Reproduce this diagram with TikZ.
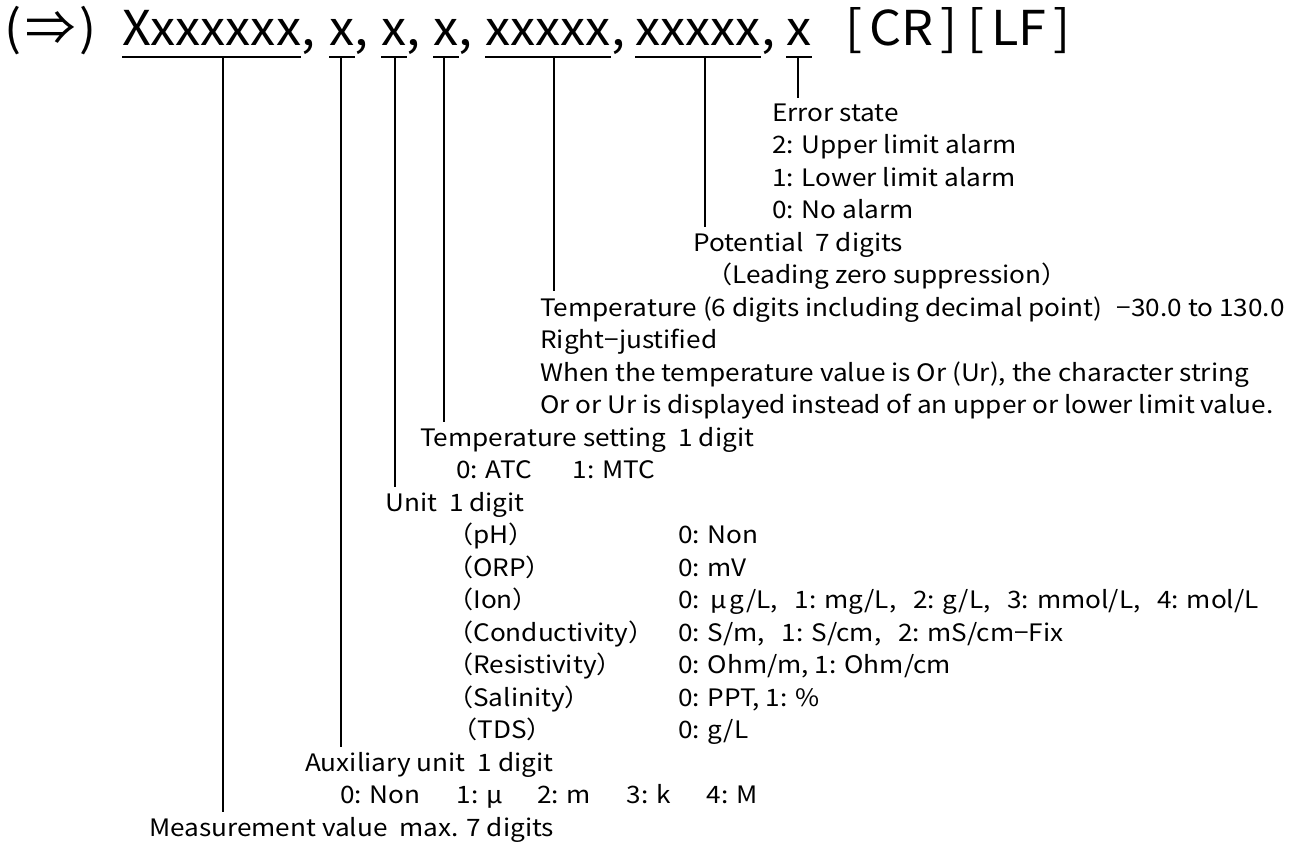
\documentclass[tikz,border=0pt]{standalone}
\usepackage{fontspec}
\setmainfont{Noto Sans CJK JP}[FakeStretch=1.09]
\newfontfamily\ttlfont{Noto Sans CJK JP}[FakeStretch=1.05]
\newcommand\fwmu{\makebox[0.95em][c]{μ}}
\begin{document}
\begin{tikzpicture}[x=1pt,y=-1pt,
  ttl/.style={anchor=base west,inner sep=0pt,font=\ttlfont\fontsize{48}{56}\selectfont},
  lbl/.style={anchor=base west,inner sep=0pt,font=\fontsize{24}{30}\selectfont},
  uline/.style={line width=2.4pt},
  conn/.style={line width=1.5pt, shorten >=5pt}]
\useasboundingbox (0,0) rectangle (1300,843);
\def\bz{121}\def\ls{32.5}
% ---------- title row ----------
\node[ttl] (arr) at (4,46) {(\kern4pt⇒\kern4pt)};
\node[ttl] (f1) at (122,46) {Xxxxxxx};
\node[ttl] (k1) at (f1.base east) {,};
\node[ttl] (f2) at (329,46) {x};
\node[ttl] (k2) at (f2.base east) {,};
\node[ttl] (f3) at (381,46) {x};
\node[ttl] (k3) at (f3.base east) {,};
\node[ttl] (f4) at (433,46) {x};
\node[ttl] (k4) at (f4.base east) {,};
\node[ttl] (f5) at (485,46) {xxxxx};
\node[ttl] (k5) at (f5.base east) {,};
\node[ttl] (f6) at (635,46) {xxxxx};
\node[ttl] (k6) at (f6.base east) {,};
\node[ttl] (f7) at (786,46) {x};
\node[ttl] (crlf) at (845,46) {[\kern7pt CR\kern7pt]\kern10pt[\kern7pt LF\kern7pt]};
\foreach \f in {f1,f2,f3,f4,f5,f6,f7}
  \draw[uline] ([yshift=-11pt]\f.base west) -- ([yshift=-11pt]\f.base east);
% ---------- labels ----------
\node[lbl] (err)  at (772,{\bz+0*\ls}) {Error state};
\node[lbl] (err2) at (772,{\bz+1*\ls}) {2: Upper limit alarm};
\node[lbl] (err1) at (772,{\bz+2*\ls}) {1: Lower limit alarm};
\node[lbl] (err0) at (772,{\bz+3*\ls}) {0: No alarm};
\node[lbl] (pot)  at (693,{\bz+4*\ls}) {Potential\hspace{0.5em}7 digits};
\node[lbl] (lead) at (706,{\bz+5*\ls}) {（Leading zero suppression）};
\node[lbl] (temp) at (540,{\bz+6*\ls}) {Temperature (6 digits including decimal point)\hspace{0.6em}−30.0 to 130.0};
\node[lbl] (rj)   at (540,{\bz+7*\ls}) {Right−justified};
\node[lbl] (when) at (540,{\bz+8*\ls}) {When the temperature value is Or (Ur), the character string};
\node[lbl] (oror) at (540,{\bz+9*\ls}) {Or or Ur is displayed instead of an upper or lower limit value.};
\node[lbl] (tset) at (420,{\bz+10*\ls}) {Temperature setting\hspace{0.5em}1 digit};
\node[lbl] (atc)  at (456,{\bz+11*\ls}) {0: ATC\hspace{1.7em}1: MTC};
\node[lbl] (unit) at (385,{\bz+12*\ls}) {Unit\hspace{0.5em}1 digit};
\node[lbl] (uph)  at (447,{\bz+13*\ls}) {（pH）};
\node[lbl] (vph)  at (678,{\bz+13*\ls}) {0: Non};
\node[lbl] (uorp) at (447,{\bz+14*\ls}) {（ORP）};
\node[lbl] (vorp) at (678,{\bz+14*\ls}) {0: mV};
\node[lbl] (uion) at (447,{\bz+15*\ls}) {（Ion）};
\node[lbl] (vion) at (678,{\bz+15*\ls}) {0:\hspace{0.3em}\fwmu g/L,\hspace{0.7em}1: mg/L,\hspace{0.7em}2: g/L,\hspace{0.7em}3: mmol/L,\hspace{0.7em}4: mol/L};
\node[lbl] (ucon) at (447,{\bz+16*\ls}) {（Conductivity）};
\node[lbl] (vcon) at (678,{\bz+16*\ls}) {0: S/m,\hspace{0.7em}1: S/cm,\hspace{0.7em}2: mS/cm−Fix};
\node[lbl] (ures) at (447,{\bz+17*\ls}) {（Resistivity）};
\node[lbl] (vres) at (678,{\bz+17*\ls}) {0: Ohm/m, 1: Ohm/cm};
\node[lbl] (usal) at (447,{\bz+18*\ls}) {（Salinity）};
\node[lbl] (vsal) at (678,{\bz+18*\ls}) {0: PPT, 1: \%};
\node[lbl] (utds) at (451,{\bz+19*\ls}) {（TDS）};
\node[lbl] (vtds) at (678,{\bz+19*\ls}) {0: g/L};
\node[lbl] (aux)  at (305,{\bz+20*\ls}) {Auxiliary unit\hspace{0.5em}1 digit};
\node[lbl] (auxv) at (340,{\bz+21*\ls}) {0: Non\hspace{1.5em}1:\hspace{0.2em}\fwmu\hspace{1.3em}2: m\hspace{1.5em}3: k\hspace{1.5em}4: M};
\node[lbl] (meas) at (149,{\bz+22*\ls}) {Measurement value\hspace{0.5em}max. 7 digits};
% ---------- connectors ----------
\coordinate (d1) at (223,57);
\coordinate (d2) at (341,57);
\coordinate (d3) at (395,57);
\coordinate (d4) at (444,57);
\coordinate (d5) at (554,57);
\coordinate (d6) at (705,57);
\coordinate (d7) at (798,57);
\draw[conn] (d1) -- (d1 |- meas.north);
\draw[conn] (d2) -- (d2 |- aux.north);
\draw[conn] (d3) -- (d3 |- unit.north);
\draw[conn] (d4) -- (d4 |- tset.north);
\draw[conn] (d5) -- (d5 |- temp.north);
\draw[conn] (d6) -- (d6 |- pot.north);
\draw[conn] (d7) -- (d7 |- err.north);
\end{tikzpicture}
\end{document}
